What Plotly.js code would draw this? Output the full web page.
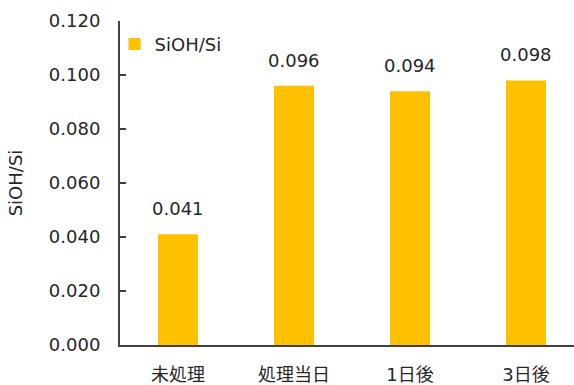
<!DOCTYPE html>
<html>
<head>
<meta charset="utf-8">
<script src="https://cdn.plot.ly/plotly-3.0.1.min.js"></script>
<style>html,body{margin:0;padding:0;background:#fff}#chart{width:574px;height:385px}</style>
</head>
<body>
<div id="chart"></div>
<script>
const categories = ["未処理", "処理当日", "1日後", "3日後"];
const values = [0.041, 0.096, 0.094, 0.098];
const valueLabels = ["0.041", "0.096", "0.094", "0.098"];
const seriesName = "SiOH/Si";
const yTickVals = [0, 0.02, 0.04, 0.06, 0.08, 0.10, 0.12];
const yTickText = ["0.000", "0.020", "0.040", "0.060", "0.080", "0.100", "0.120"];

const font = "DejaVu Sans, Verdana, 'Noto Sans CJK JP', sans-serif";
const textColor = "#262626";
const fs = 18;

const trace = {
  type: "bar",
  x: categories,
  y: values,
  name: seriesName,
  marker: {color: "#FFC000"},
  hoverinfo: "none"
};

const annotations = categories.map((c, i) => ({
  x: c, y: values[i], xref: "x", yref: "y",
  text: valueLabels[i], showarrow: false,
  yanchor: "bottom", yshift: 13,
  font: {family: font, size: fs, color: textColor}
}));

const layout = {
  width: 574, height: 385,
  margin: {l: 120, r: 0, t: 21, b: 40},
  paper_bgcolor: "#fff", plot_bgcolor: "#fff",
  bargap: 0.655,
  showlegend: true,
  legend: {x: -0.012, y: 0.985, xanchor: "left", yanchor: "top",
           font: {family: font, size: fs, color: textColor},
           bgcolor: "rgba(0,0,0,0)"},
  xaxis: {
    type: "category",
    range: [-0.5, 3.414],
    showline: true, linecolor: "#404040", linewidth: 2,
    ticks: "", showgrid: false, zeroline: false,
    tickfont: {family: font, size: fs, color: textColor},
    ticklabelstandoff: 12
  },
  yaxis: {
    range: [0, 0.12],
    tickvals: yTickVals, ticktext: yTickText,
    showline: true, linecolor: "#404040", linewidth: 2,
    ticks: "inside", ticklen: 6, tickcolor: "#404040", tickwidth: 2,
    showgrid: false, zeroline: false,
    tickfont: {family: font, size: fs, color: textColor},
    ticklabelstandoff: 14,
    title: {text: "SiOH/Si", font: {family: font, size: fs, color: textColor}, standoff: 22}
  },
  annotations: annotations
};

Plotly.newPlot("chart", [trace], layout, {staticPlot: true, displayModeBar: false});
</script>
</body>
</html>
